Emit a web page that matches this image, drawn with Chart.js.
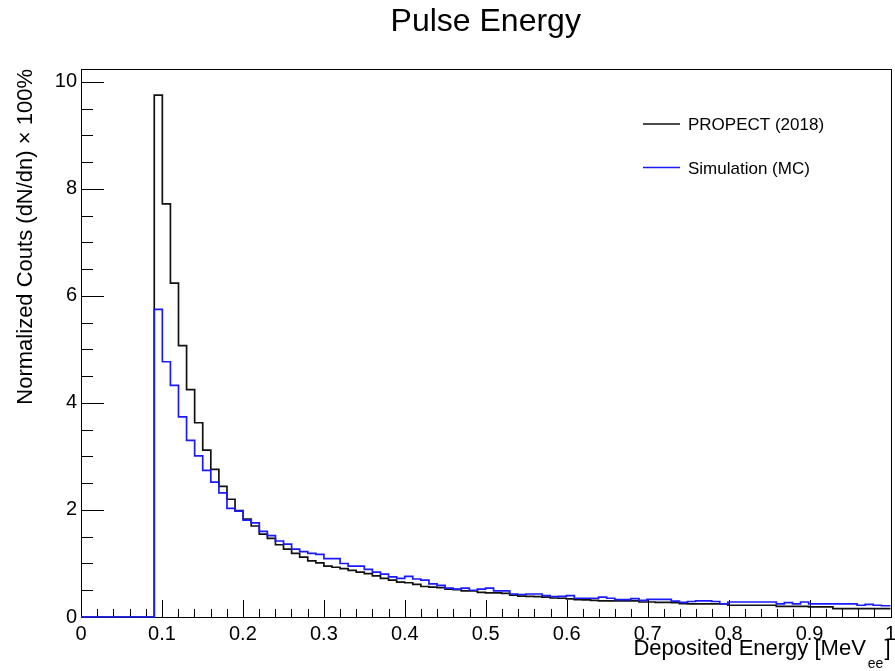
<!DOCTYPE html>
<html>
<head>
<meta charset="utf-8">
<script src="https://cdn.jsdelivr.net/npm/chart.js@4.4.1/dist/chart.umd.min.js"></script>
<style>
  body { margin: 0; background: #fff; }
  canvas { display: block; }
</style>
</head>
<body>
<canvas id="pulseChart" width="895" height="671"></canvas>
<script>
// histogram binning (MeVee)
const binStart = 0.0905;
const binWidth = 0.00998;

// PROPECT (2018) data, one value per bin
const propectCounts = [
  9.75, 7.72, 6.24, 5.07, 4.25, 3.63, 3.12, 2.76, 2.44, 2.20,
  1.99, 1.83, 1.70, 1.55, 1.47, 1.35, 1.27, 1.19, 1.12, 1.05,
  1.01, 0.95, 0.93, 0.905, 0.87, 0.84, 0.81, 0.77, 0.72, 0.69,
  0.65, 0.64, 0.61, 0.57, 0.56, 0.55, 0.52, 0.51, 0.49, 0.49,
  0.46, 0.45, 0.45, 0.44, 0.41, 0.39, 0.385, 0.38, 0.37, 0.355,
  0.35, 0.34, 0.325, 0.32, 0.31, 0.30, 0.30, 0.30, 0.30, 0.30,
  0.28, 0.28, 0.275, 0.275, 0.27, 0.25, 0.245, 0.245, 0.245, 0.245,
  0.245, 0.22, 0.22, 0.22, 0.22, 0.22, 0.22, 0.20, 0.20, 0.20,
  0.20, 0.19, 0.19, 0.19, 0.155, 0.155, 0.155, 0.155, 0.155, 0.155,
  0.155
];

// Simulation (MC), same bins
const simCounts = [
  5.75, 4.77, 4.33, 3.74, 3.30, 3.01, 2.74, 2.52, 2.32, 2.03,
  1.98, 1.81, 1.76, 1.60, 1.52, 1.42, 1.36, 1.27, 1.22, 1.19,
  1.17, 1.09, 1.09, 1.00, 0.95, 0.95, 0.89, 0.84, 0.80, 0.75,
  0.72, 0.76, 0.71, 0.69, 0.62, 0.59, 0.54, 0.52, 0.54, 0.50,
  0.52, 0.54, 0.49, 0.49, 0.43, 0.42, 0.43, 0.43, 0.40, 0.38,
  0.385, 0.40, 0.35, 0.35, 0.35, 0.37, 0.35, 0.325, 0.325, 0.345,
  0.31, 0.33, 0.33, 0.33, 0.295, 0.275, 0.29, 0.30, 0.30, 0.29,
  0.245, 0.28, 0.28, 0.28, 0.28, 0.28, 0.28, 0.245, 0.27, 0.245,
  0.28, 0.245, 0.245, 0.245, 0.245, 0.245, 0.245, 0.22, 0.235, 0.22,
  0.21
];

const seriesLabels = ['PROPECT (2018)', 'Simulation (MC)'];
const seriesColors = ['#111111', '#1a1aff'];

const xRange = [0, 1];
const yRange = [0, 10.24];
const xTickStep = 0.1;
const yTickStep = 2;

const FONT = '"Liberation Sans", Arial, Helvetica, sans-serif';

// turn bin contents into step points (left edge of each bin)
function toSteps(counts) {
  const pts = [{ x: xRange[0], y: 0 }];
  counts.forEach((v, i) => {
    pts.push({ x: binStart + i * binWidth, y: v });
  });
  pts.push({ x: xRange[1], y: counts[counts.length - 1] });
  return pts;
}

// ROOT-like frame with ticks pointing inside
const rootFrame = {
  id: 'rootFrame',
  beforeDatasetsDraw(chart) {
    const { ctx, chartArea: a, scales: { x, y } } = chart;
    ctx.save();
    ctx.strokeStyle = '#000';
    ctx.lineWidth = 1;
    ctx.strokeRect(Math.round(a.left) + 0.5, Math.round(a.top) + 0.5,
      Math.round(a.right - a.left), Math.round(a.bottom - a.top));

    ctx.beginPath();
    for (let i = 0; i * 0.5 <= yRange[1]; i++) {
      const py = Math.round(y.getPixelForValue(i * 0.5)) + 0.5;
      const len = i % 4 === 0 ? 23 : 12;
      ctx.moveTo(a.left, py);
      ctx.lineTo(a.left + len, py);
    }
    for (let i = 0; i <= 50; i++) {
      const px = Math.round(x.getPixelForValue(i * 0.02)) + 0.5;
      const len = i % 5 === 0 ? 17 : 8;
      ctx.moveTo(px, a.bottom);
      ctx.lineTo(px, a.bottom - len);
    }
    ctx.stroke();
    ctx.restore();
  },
  afterDraw(chart) {
    const { ctx, chartArea: a } = chart;
    ctx.save();
    ctx.fillStyle = '#000';

    // title
    ctx.font = '32px ' + FONT;
    ctx.textAlign = 'center';
    ctx.textBaseline = 'alphabetic';
    ctx.fillText('Pulse Energy', (a.left + a.right) / 2, 31);

    // x axis title with subscript
    ctx.textAlign = 'left';
    const main = 'Deposited Energy [MeV';
    ctx.font = '14px ' + FONT;
    const subW = ctx.measureText('ee').width;
    ctx.font = '22px ' + FONT;
    const brW = ctx.measureText(']').width;
    const mainW = ctx.measureText(main).width;
    const x0 = a.right - brW - subW - mainW - 3;
    ctx.fillText(main, x0, 655);
    ctx.fillText(']', x0 + mainW + subW + 3, 655);
    ctx.font = '14px ' + FONT;
    ctx.fillText('ee', x0 + mainW + 2, 668);

    // y axis title
    ctx.font = '22px ' + FONT;
    ctx.translate(32, a.top);
    ctx.rotate(-Math.PI / 2);
    ctx.textAlign = 'right';
    ctx.fillText('Normalized Couts (dN/dn) \u00d7 100%', 0, 0);
    ctx.restore();

    // legend
    ctx.save();
    ctx.font = '17px ' + FONT;
    ctx.textAlign = 'left';
    ctx.textBaseline = 'alphabetic';
    chart.data.datasets.forEach((ds, i) => {
      const ly = 124 + i * 43.5;
      ctx.strokeStyle = ds.borderColor;
      ctx.lineWidth = 1.5;
      ctx.beginPath();
      ctx.moveTo(643, ly);
      ctx.lineTo(680, ly);
      ctx.stroke();
      ctx.fillStyle = '#000';
      ctx.fillText(ds.label, 688, ly + 6);
    });
    ctx.restore();
  }
};

const chart = new Chart(document.getElementById('pulseChart'), {
  type: 'line',
  data: {
    datasets: [
      {
        label: seriesLabels[0],
        data: toSteps(propectCounts),
        borderColor: seriesColors[0],
        borderWidth: 1.7,
        stepped: 'before',
        pointRadius: 0,
        fill: false,
        clip: 3,
        order: 1
      },
      {
        label: seriesLabels[1],
        data: toSteps(simCounts),
        borderColor: seriesColors[1],
        borderWidth: 1.7,
        stepped: 'before',
        pointRadius: 0,
        fill: false,
        clip: 3,
        order: 0
      }
    ]
  },
  options: {
    responsive: false,
    animation: false,
    layout: { padding: { top: 69, right: 4.5, left: 0, bottom: 0 } },
    plugins: {
      legend: { display: false },
      title: { display: false },
      tooltip: { enabled: false }
    },
    scales: {
      x: {
        type: 'linear',
        min: xRange[0],
        max: xRange[1],
        grid: { display: false, drawTicks: false },
        border: { display: false },
        ticks: {
          stepSize: xTickStep,
          includeBounds: false,
          maxRotation: 0,
          autoSkip: false,
          padding: 5,
          color: '#000',
          font: { family: FONT, size: 20 },
          callback: v => String(+v.toFixed(1))
        },
        afterFit(scale) {
          scale.height = 54;
          scale.paddingLeft = 0;
          scale.paddingRight = 0;
        }
      },
      y: {
        min: yRange[0],
        max: yRange[1],
        grid: { display: false, drawTicks: false },
        border: { display: false },
        ticks: {
          stepSize: yTickStep,
          includeBounds: false,
          padding: 4,
          color: '#000',
          font: { family: FONT, size: 20 }
        },
        afterFit(scale) {
          scale.width = 81;
          scale.paddingTop = 0;
          scale.paddingBottom = 0;
        }
      }
    }
  },
  plugins: [rootFrame]
});
</script>
</body>
</html>
